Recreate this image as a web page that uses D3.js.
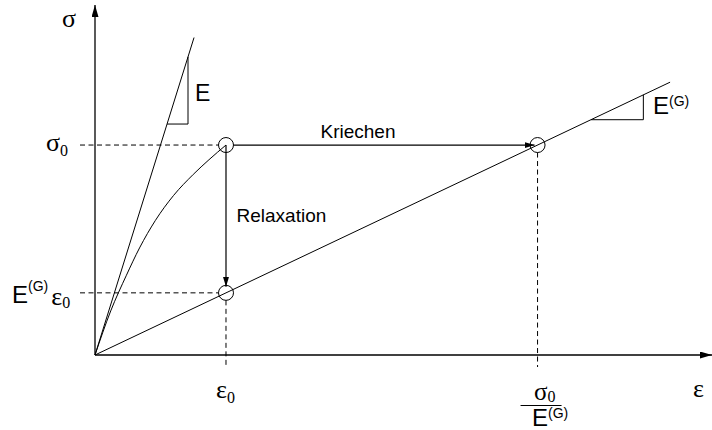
<!DOCTYPE html>
<html>
<head>
<meta charset="utf-8">
<script src="https://cdn.jsdelivr.net/npm/d3@7"></script>
<style>
  html, body { margin: 0; padding: 0; background: #fff; }
  svg { display: block; }
  .sans { font-family: "Liberation Sans", Arial, sans-serif; }
  .serif { font-family: "Liberation Serif", "Times New Roman", serif; }
</style>
</head>
<body>
<svg id="chart" width="712" height="430"></svg>
<script>
// Material constants (normalised units: sigma0 = 1, eps0 = 1)
const sigma0 = 1;
const eps0 = 1;
const modulusE = 2;        // instantaneous modulus E
const modulusEG = 0.296;   // equilibrium modulus E^(G)

// Axis extents (strain, stress)
const axisMax = [4.71, 1.667];

// Nonlinear loading path from the origin up to (eps0, sigma0)
const curveEps = [0, 0.12, 0.24, 0.34, 0.46, 0.60, 0.75, 0.87, 1.0];
const curveSig = [0, 0.21, 0.38, 0.51, 0.64, 0.76, 0.86, 0.93, 1.0];

// Extent of the two modulus lines (strain at the line end)
const lineEndE = [0, 0.756];
const lineEndEG = [0, 4.39];

// Slope triangles: [strain start, strain end]
const triE = [0.55, 0.71];
const triEG = [3.786, 4.186];

const svg = d3.select("#chart");
const x = d3.scaleLinear().domain([0, axisMax[0]]).range([95, 712]);
const y = d3.scaleLinear().domain([0, axisMax[1]]).range([355, 5]);

const ink = "#000";
const defs = svg.append("defs");
function marker(id, len, half) {
  defs.append("marker")
    .attr("id", id)
    .attr("markerUnits", "userSpaceOnUse")
    .attr("viewBox", `0 ${-half} ${len} ${2 * half}`)
    .attr("refX", len).attr("refY", 0)
    .attr("markerWidth", len).attr("markerHeight", 2 * half)
    .attr("orient", "auto")
    .append("path")
    .attr("d", `M0,${-half}L${len},0L0,${half}Z`)
    .attr("fill", ink);
}
marker("axisHead", 12, 3.5);
marker("arrowHead", 10, 3);

// Axes
svg.append("line")
  .attr("x1", x(0)).attr("y1", y(0))
  .attr("x2", x(0)).attr("y2", y(axisMax[1]))
  .attr("stroke", ink).attr("stroke-width", 1.3)
  .attr("marker-end", "url(#axisHead)");
svg.append("line")
  .attr("x1", x(0)).attr("y1", y(0))
  .attr("x2", x(axisMax[0])).attr("y2", y(0))
  .attr("stroke", ink).attr("stroke-width", 1.3)
  .attr("marker-end", "url(#axisHead)");

const r = 7.5;
const creepEps = sigma0 / modulusEG;
const relaxSig = modulusEG * eps0;

// Dashed guide lines
const dash = "5,3.5";
const guides = [
  [x(0) - 15, y(sigma0), x(eps0) - r, y(sigma0)],
  [x(0) - 15, y(relaxSig), x(eps0) - r, y(relaxSig)],
  [x(eps0), y(relaxSig) + r, x(eps0), y(0) + 12],
  [x(creepEps), y(sigma0) + r, x(creepEps), y(0) + 12]
];
svg.selectAll("line.guide").data(guides).join("line")
  .attr("class", "guide")
  .attr("x1", d => d[0]).attr("y1", d => d[1])
  .attr("x2", d => d[2]).attr("y2", d => d[3])
  .attr("stroke", ink).attr("stroke-width", 1)
  .attr("stroke-dasharray", dash);

// Modulus lines
const line = d3.line().x(d => x(d[0])).y(d => y(d[1]));
svg.append("path")
  .attr("d", line(lineEndE.map(e => [e, modulusE * e])))
  .attr("fill", "none").attr("stroke", ink).attr("stroke-width", 1);
svg.append("path")
  .attr("d", line(lineEndEG.map(e => [e, modulusEG * e])))
  .attr("fill", "none").attr("stroke", ink).attr("stroke-width", 1);

// Slope triangles
function slopeTriangle(t, m) {
  return line([[t[0], m * t[0]], [t[1], m * t[0]], [t[1], m * t[1]]]);
}
svg.append("path").attr("d", slopeTriangle(triE, modulusE))
  .attr("fill", "none").attr("stroke", ink).attr("stroke-width", 1);
svg.append("path").attr("d", slopeTriangle(triEG, modulusEG))
  .attr("fill", "none").attr("stroke", ink).attr("stroke-width", 1);

// Loading curve
const curvePts = curveEps.map((e, i) => [e, curveSig[i]]);
svg.append("path")
  .attr("d", d3.line().x(d => x(d[0])).y(d => y(d[1])).curve(d3.curveMonotoneX)(curvePts))
  .attr("fill", "none").attr("stroke", ink).attr("stroke-width", 1);

// Creep arrow (horizontal) and relaxation arrow (vertical)
svg.append("line")
  .attr("x1", x(eps0) + r).attr("y1", y(sigma0))
  .attr("x2", x(creepEps) - 3).attr("y2", y(sigma0))
  .attr("stroke", ink).attr("stroke-width", 1.2)
  .attr("marker-end", "url(#arrowHead)");
svg.append("line")
  .attr("x1", x(eps0)).attr("y1", y(sigma0))
  .attr("x2", x(eps0)).attr("y2", y(relaxSig) - 6)
  .attr("stroke", ink).attr("stroke-width", 1.2)
  .attr("marker-end", "url(#arrowHead)");

// State points
const states = [[eps0, sigma0], [eps0, relaxSig], [creepEps, sigma0]];
svg.selectAll("circle.state").data(states).join("circle")
  .attr("class", "state")
  .attr("cx", d => x(d[0])).attr("cy", d => y(d[1])).attr("r", r)
  .attr("fill", "none").attr("stroke", ink).attr("stroke-width", 1);

// Label helper: parts = [text, class, size, dx, dy]
function label(px, py, parts) {
  const t = svg.append("text").attr("x", px).attr("y", py).attr("fill", ink);
  parts.forEach(p => {
    t.append("tspan")
      .attr("class", p[1])
      .attr("font-size", p[2])
      .attr("dx", p[3] || 0)
      .attr("dy", p[4] || 0)
      .text(p[0]);
  });
}

// Axis titles
label(x(0) - 33, 27, [["σ", "serif", 26]]);
label(693, 397, [["ε", "serif", 26]]);

// sigma0 on the stress axis
label(46, y(sigma0) + 6, [["σ", "serif", 26], ["0", "serif", 16, 0, 5]]);

// E^(G) eps0 on the stress axis
label(12, y(relaxSig) + 10, [
  ["E", "sans", 24],
  ["(G)", "sans", 14, 0, -12],
  ["ε", "serif", 26, 3, 14],
  ["0", "serif", 16, 0, 3]
]);

// eps0 on the strain axis
label(216, 398, [["ε", "serif", 26], ["0", "serif", 16, 0, 5]]);

// sigma0 / E^(G) on the strain axis
label(534, 400, [["σ", "serif", 25], ["0", "serif", 16, 0, 2]]);
svg.append("line")
  .attr("x1", x(creepEps) - 17).attr("x2", x(creepEps) + 24)
  .attr("y1", 405.5).attr("y2", 405.5)
  .attr("stroke", ink).attr("stroke-width", 1);
label(532, 426, [["E", "sans", 24], ["(G)", "sans", 14, 0, -8]]);

// Modulus labels
label(195, 100.5, [["E", "sans", 23]]);
label(653, 113.5, [["E", "sans", 24], ["(G)", "sans", 14, 0, -8]]);

// Process labels
label(320.5, 138, [["Kriechen", "sans", 19]]);
label(236.5, 221.7, [["Relaxation", "sans", 19]]);
</script>
</body>
</html>
